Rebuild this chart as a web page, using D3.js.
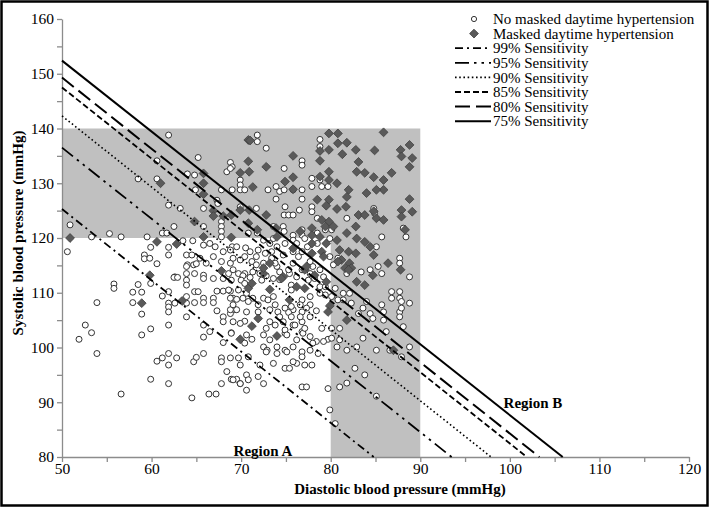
<!DOCTYPE html>
<html><head><meta charset="utf-8">
<script src="https://cdn.jsdelivr.net/npm/d3@7/dist/d3.min.js"></script>
<style>body{margin:0;background:#fff}svg{display:block}text{font-family:"Liberation Serif","Times New Roman",serif}</style>
</head><body><svg id="c" width="709" height="507"></svg>
<script>
// ---- data ----
const xTicks = d3.range(50, 121, 5);
const yTicks = d3.range(80, 161, 5);
const grayRegion = [[50,140],[90,140],[90,80],[80,80],[80,120],[50,120]];
const sensLabels = ["99% Sensitivity","95% Sensitivity","90% Sensitivity","85% Sensitivity","80% Sensitivity","75% Sensitivity"];
const sensStartY = [125.3, 136.5, 142.3, 147.5, 149.3, 152.4];   // SBP at DBP = 50
const sensEndX   = [84.8, 93.5, 97.9, 101.9, 103.3, 105.9];      // DBP at SBP = 80
const sensDash   = ["8,4,2,4", "14,5,2.5,5,2.5,5", "1.6,2.6", "6,3", "15,6", null];
const sensWidth  = [1.8, 1.8, 1.6, 1.8, 2, 2];
const noMasked = [
[61.9,138.8],[50.9,122.4],[50.6,117.5],[53.3,120.2],[55.3,120.8],[56.6,120.2],[59.5,120.2],[60.6,134.1],[58.5,130.8],[60.6,130.8],[61.9,126],[63.2,125.4],[62.5,122.1],[61.2,120.9],[61.7,120.9],[64,131.7],[64.8,131.5],[65.2,134.7],[64.9,128.8],[65.8,125.4],[65.8,122.1],[59.9,118.3],[61.9,118.3],[63.5,119.5],[64.6,119.5],[65.8,118.7],[59.2,116.9],[59.2,116.2],[59.8,116.3],[60.6,115.3],[61.9,116.9],[63.9,116.9],[64.5,116.9],[64,115.1],[64.7,115.1],[65,115.3],[66.1,115.4],[66.9,116.6],[68.8,133.8],[69,133],[68.4,132.1],[69.9,130.6],[69.9,129.7],[69.9,128.8],[69,128.8],[67.8,128.8],[67.3,126.9],[67.4,126.3],[67.8,123],[67.8,122.1],[67.8,121.2],[67.8,120.2],[69.9,125.7],[69,118.4],[67.1,118.4],[66.5,119],[68,117.5],[68.8,115.4],[62.6,112.9],[63.9,113.5],[64.8,113.5],[65.8,113.2],[69.7,113.5],[70.4,113.5],
[53.9,108.2],[52.6,104.1],[53.3,102.7],[51.9,101.5],[53.9,98.9],[55.8,111.6],[55.8,110.8],[56.6,91.5],[57.9,110.1],[57.9,108.2],[58.5,111.5],[58.9,110.1],[58.9,106.1],[58.9,102.3],[59.9,103.4],[59.9,94.2],[59.9,111.7],[61.2,109.4],[61.9,110.2],[61.9,108.1],[61.9,107.4],[61.9,106.5],[61.9,104.1],[60.6,97.5],[61.2,98.1],[61.9,98.9],[61.9,96.8],[62.8,98.1],[61.9,93.4],[62.5,112.8],[62.9,112.8],[63.9,114.8],[63.9,112.3],[63.9,111.4],[63.9,109.3],[63.9,108.1],[63.9,105.6],[64.8,110.2],[65.2,110.2],[64.8,108.2],[65.8,109],[65.8,108.2],[66.9,109],[66.9,108.2],[65.8,104.1],[65.8,101.9],[66.5,102.9],[65.8,98.9],[64.7,97.4],[65,98.2],[64.5,90.8],[66.4,91.5],[67.2,91.5],[65.8,112.6],[66.9,112.6],[68,112.6],[67.3,110.3],[68,110.3],[68.8,110.3],[67.3,106.7],[68,105.6],[68.8,106.2],[69.3,106.9],[69.1,109],[68,104.7],[68.9,102.7],[68,100.9],[67.8,98.1],[67.8,97.4],[68.8,98.1],[69.7,98.1],[68.4,95.6],[68.9,94.2],[69.5,94.2],[67.8,93.4],[69.9,93.4],[70.6,95],[70.6,92.2],[70.6,109.9],[70.4,104.8],
[71.8,138.8],[71.8,137.6],[72.8,136.4],[68.8,132.7],[76.8,134.1],[76.8,133.3],[74.8,132.7],[78.8,138],[78.8,136.7],[77.9,130.9],[78.8,130.6],[77.9,129.4],[79,129.4],[79.7,129.4],[73,128.8],[73.9,129.4],[74.3,128.5],[74.8,128.8],[75.8,128.8],[76.8,128.8],[70.4,128.8],[73.9,127.1],[74.9,125.7],[76.8,127.1],[77.9,125.7],[77.9,124.8],[76.5,125.1],[74.8,124.2],[75.3,124.2],[75.8,124.2],[71.7,125.4],[81.8,123.6],[78.5,123.6],[78.5,120.9],[78.5,119],[84.8,125.4],[84.9,124.5],[85.7,120.2],[88.1,121.8],[88.4,120.2],[87.7,116.3],[87.7,115.4],[88.8,112.9],[85.1,118.4],[75.8,120.5],[75.8,119.6],[76.8,121.5],[76.8,120.5],[74.7,122.1],[74.8,121.2],[73.6,122.1],[70.8,120.9],[71.8,120.9],[72.5,119.6],[68.8,117.8],[69.5,118.4],[71,117.5],[71.7,116.6],[72.7,117.2],[73.4,117.5],[69.9,116],[70.4,116.6],[69.1,114.2],[71.3,113.8],[72.5,115.4],[73.4,116.3],[74,114.8],[74.3,113.8],[75.8,117.5],[76.4,116.6],[75.8,115.4],[76.8,114.2],[76.2,112.9],[79.9,116.6],[80.8,116.3],[80.3,115.1],[81.8,113.5],[83.4,113.8],[84.4,114.2],[85.3,114.8],[85.7,113.5],[78.8,114.2],[78,114.8],[77.7,115.7],[79.2,112.9],[74.9,119],[74,118.4],[73.2,119],[77.4,118.4],
[70.2,113.1],[71,112.8],[68.9,112.3],[70,112.3],[72.1,113.5],[72.8,113.1],[73.6,112.6],[74.3,112.4],[75.4,113.5],[77.7,113.5],[78.8,111.1],[78.8,109.9],[79.4,111.1],[68.8,109],[69.5,108.8],[70.2,109],[71.3,109],[72.5,109],[73.6,109.3],[68.8,106.9],[69.5,106.9],[70.6,106.5],[73.2,106.9],[74.1,106.5],[74.9,107.2],[75.8,106.9],[69.1,104.7],[69.9,104.4],[73.2,104.7],[74.7,104.7],[75.8,104.1],[76.8,104.7],[77.7,105.6],[76.8,106.5],[77.7,107.8],[77.7,109.3],[76.8,108.7],[68.9,102.6],[70.6,102.3],[71.2,101.5],[72.5,102.3],[73.2,101.4],[74.9,102.6],[76.8,102.9],[77.7,102],[78.4,101.1],[79.7,101.5],[70.8,98.3],[72.5,100.1],[72.9,99.5],[74,100.1],[74.9,99.5],[75.8,100.1],[76.8,99.2],[76.8,98.3],[77.7,99.5],[69.9,96.8],[72.1,96.8],[73.6,97.1],[76.2,97.1],[77.1,96.8],[77.9,96.8],[70.8,94.1],[71.9,94.7],[72.5,93.4],[74.9,96.2],[75.4,96.2],[76.8,92.8],[77.3,92.8],[79.7,92.5],[80.5,110.8],[81.4,109.9],[82.1,109.9],[80.8,108.7],[81.4,108.7],[82.3,108.1],[84,108.4],[85.7,107.8],[83.6,107.2],[83.1,106.2],[84.4,106.2],[86.8,110.2],[86.8,109],[87.7,110.2],[87.7,109],[87.7,106.5],[87.7,105.6],[88.8,108.1],[85.9,106.5],[84.7,105.3],[85.9,105],[80.1,103.5],[81,103.5],[80.1,101.7],[81,101.4],[83.6,101.7],[86.2,102.9],[88.1,103.8],[81.8,99.5],[82.9,100.1],[80.7,100.1],[85.1,99.5],[86.6,99.5],[88.8,100.1],[82.7,96.2],[83.8,95],[81.8,93.5],[81,92.8],[79.9,88.6],[80.5,86.1],[85.1,91.1],[78.6,98.9],[87.9,98.3],[87.9,108.4],[87.9,107.2],
[70.5,118.2],[71.9,117.8],[74.7,116.9],[76.8,117.5],[71.2,115.7],[71.7,115.1],[69.1,116.3],[72.3,112.3],[70.4,111.7],[69.7,110.5],[68.6,113.5],[68.6,110.5],[73.8,115.4],[75.3,114.2],[75.6,111.4],[75.6,110.5],[77.5,112.3],[78.2,112.6],[79.4,109.6],[80.1,109.3],[69.1,107.8],[70.8,108.4],[71.9,107.8],[73,108.7],[73.8,107.8],[75.6,107.5],[76.6,107.8],[77.3,107.2],[78.4,106.7],[71.9,106.5],[75.3,106.4],[73.6,119.9],[76.2,119],[77.1,119.9],[79.4,121.5],[79.9,119.9],[80.1,121.5],
[65.4,116.3],[67.8,115.7],[62.6,108.1],
[72.8,103.5],[73.8,104.1],[74.3,105.6],[74.9,103.2],[75.1,102.3],[75.6,105.6],[76.6,105.6],[76,104.1],[76.9,102.6],[77.1,103.5],[76.2,101.4],[79,103.5],[70.4,100.8],[72.8,99.2],[74,98.9],[75.1,99.2],[78,100.8],[79.2,101.1],[75.8,97.4],[69.1,94.1],[69.9,93.4]
];
const masked = [
[50.9,120],[61,130],[65.8,131.8],[65.8,130],[65.8,128],[66.9,125],[66.9,124],[68,124],[68.9,124.2],[64.8,123],[69.9,125.1],[70.8,122.7],[69.9,131.9],[70.8,137.9],[70.8,134],[65.8,120.2],[68.9,120.1],[60.6,119.3],[62.8,118.9],[59.8,113.2],[67.8,114],
[58.9,108.1],[69.9,101.5],[70.8,110.8],
[85.9,139.3],[79.8,139.1],[80.8,139.1],[80.8,137.3],[81.8,137.4],[79.8,136.1],[78.8,135.9],[81.3,135.3],[82.8,136.1],[84.9,136],[87.8,136.1],[88.8,137],[87.9,134.9],[89.1,134.6],[88.8,133],[71,137.8],[75.8,135],[72.8,133],[70.9,132.1],[78.8,134.1],[83.1,133.9],[82.9,132.1],[83.8,131.9],[84.8,131.1],[86.8,131.9],[85.9,130.6],[85.9,128.8],[85.1,128.8],[84,128.2],[79.8,132.1],[78.8,131.2],[80.7,130],[79.8,130.6],[75.8,131.1],[74.9,130.3],[75.8,128.9],[71.3,129.3],[78.5,127],[79.8,127],[79.5,125.9],[80.7,125.3],[81.7,125.7],[82,128.8],[81.8,127.5],[83.1,124.2],[83.8,124.2],[85.1,123.6],[85.9,123.3],[84.8,124.9],[88.8,127.1],[87.9,125.1],[89.1,124.8],[87.9,123.9],[72.8,124.2],[73.9,121.8],[70.9,125.1],[82.8,122.1],[81.8,120.9],[80.7,119.6],[82.9,119.9],[83.8,119.3],[79.8,123],[79,123.3],[79.4,122.1],[80.3,122.1],[77.9,121.8],[76.6,121.2],[77.9,120.5],[78.8,120.2],[79.5,119],[81,117.8],[82,117.5],[84.4,118.4],[84.8,116.9],[86.4,115.4],[87.8,114.2],[82.8,117.2],[81.2,116],[82.1,115.4],[82.3,114.5],[81.6,114.5],[77.9,119],[77.9,117.2],[79,117.5],[79.2,116.6],[77.1,114.2],[78.2,113.2],[74.7,112.9],[72.5,113.5],[74,120.2],[84.7,113.2],
[80.8,115.7],[82,114.2],[82.9,112],[83.8,111.4],[79.5,112],[79.9,107.6],[79.7,106.5],[81.8,105],[77.3,114.8],[76.2,111.1],[74.5,112.6],[73.2,110.6],[71.2,111.7],[72.5,114.5],[73.2,115.4],[75.4,108.7],[71.9,105.3],[71.2,103.9],[74,102.1],[87,99.5],[88.3,121.5],
[71.8,121.5],[75.8,118.1],[77.1,110.8],[63.4,108.5]
];
const legendLabels = ["No masked daytime hypertension","Masked daytime hypertension"];
const xTitle = "Diastolic blood pressure (mmHg)";
const yTitle = "Systolic blood pressure (mmHg)";

// ---- drawing ----
const svg = d3.select("#c");
const x = d3.scaleLinear().domain([50,120]).range([62,689]);
const y = d3.scaleLinear().domain([80,160]).range([457,19]);

svg.append("rect").attr("x",1.5).attr("y",1.5).attr("width",706).attr("height",504)
  .attr("fill","#fff").attr("stroke","#000").attr("stroke-width",2.5);

const line = d3.line().x(d=>x(d[0])).y(d=>y(d[1]));
svg.append("path").attr("d", line(grayRegion)+"Z").attr("fill","#c0c0c0");

// axes
const gy = svg.append("g").attr("transform",`translate(${x(50)},0)`)
  .call(d3.axisLeft(y).tickValues(yTicks).tickFormat(d=>d%10===0?d:"").tickSize(5).tickSizeOuter(0));
const gx = svg.append("g").attr("transform",`translate(0,${y(80)})`)
  .call(d3.axisBottom(x).tickValues(xTicks).tickFormat(d=>d%10===0?d:"").tickSize(5).tickSizeOuter(0));
[gx,gy].forEach(g=>{
  g.selectAll("path,line").attr("stroke","#8c8c8c").attr("stroke-width",1.3);
  g.selectAll("text").attr("fill","#000").style("font-size","15.5px").style("font-family","Liberation Serif");
});
gy.selectAll("text").attr("x",-8);
gx.selectAll("text").attr("y",6);

// points
const pts = svg.append("g");
pts.selectAll("circle.nm").data(noMasked).join("circle").attr("class","nm")
  .attr("cx",d=>x(d[0])).attr("cy",d=>y(d[1])).attr("r",3)
  .attr("fill","#fff").attr("stroke","#333").attr("stroke-width",1);
const diamond = d3.symbol().type(d3.symbolDiamond2).size(50);
pts.selectAll("path.m").data(masked).join("path").attr("class","m")
  .attr("transform",d=>`translate(${x(d[0])},${y(d[1])})`)
  .attr("d",diamond).attr("fill","#5a5a5a").attr("stroke","#404040").attr("stroke-width",0.8);

// sensitivity lines
sensLabels.forEach((lab,i)=>{
  svg.append("path").attr("d", line([[50,sensStartY[i]],[sensEndX[i],80]]))
    .attr("fill","none").attr("stroke","#000").attr("stroke-width",sensWidth[i])
    .attr("stroke-dasharray",sensDash[i]);
});

// region labels
svg.append("text").attr("x",263).attr("y",456).attr("text-anchor","middle")
  .style("font-size","15px").style("font-weight","bold").text("Region A");
svg.append("text").attr("x",533).attr("y",408).attr("text-anchor","middle")
  .style("font-size","15px").style("font-weight","bold").text("Region B");

// axis titles
svg.append("text").attr("x",400).attr("y",494).attr("text-anchor","middle")
  .style("font-size","15px").style("font-weight","bold").text(xTitle);
svg.append("text").attr("transform","translate(23,233) rotate(-90)").attr("text-anchor","middle")
  .style("font-size","15px").style("font-weight","bold").text(yTitle);

// legend
const lg = svg.append("g");
const rowY = i => 19 + i*14.6;
const tx = 493;
lg.append("circle").attr("cx",474).attr("cy",rowY(0)).attr("r",2.6).attr("fill","#fff").attr("stroke","#333");
lg.append("path").attr("transform",`translate(474,${rowY(1)})`).attr("d",diamond).attr("fill","#5a5a5a").attr("stroke","#404040").attr("stroke-width",0.8);
legendLabels.forEach((t,i)=>lg.append("text").attr("x",tx).attr("y",rowY(i)).attr("dy","0.35em").style("font-size","15px").text(t));
sensLabels.forEach((t,i)=>{
  const r = rowY(i+2);
  lg.append("line").attr("x1",455).attr("x2",491).attr("y1",r).attr("y2",r)
    .attr("stroke","#000").attr("stroke-width",sensWidth[i]).attr("stroke-dasharray",sensDash[i]);
  lg.append("text").attr("x",tx).attr("y",r).attr("dy","0.35em").style("font-size","15px").text(t);
});
</script></body></html>
